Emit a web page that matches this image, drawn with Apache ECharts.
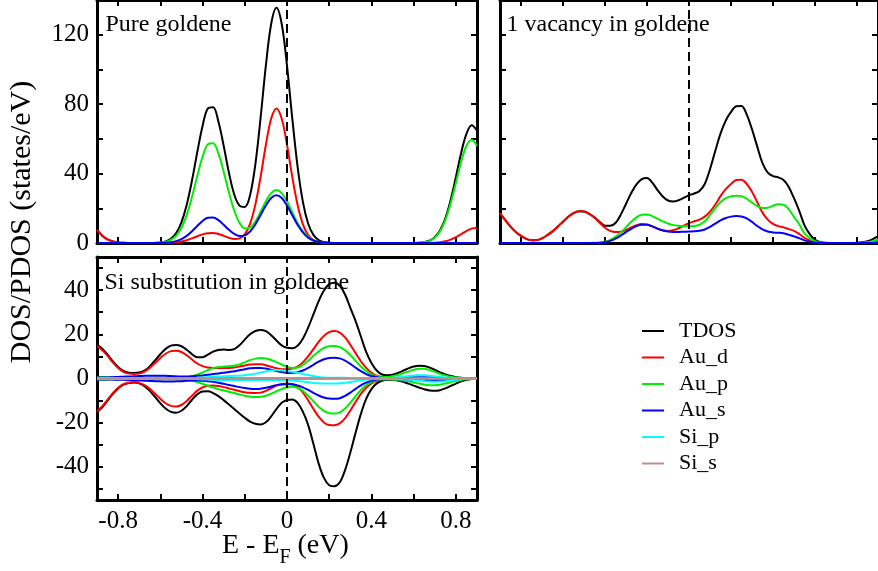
<!DOCTYPE html>
<html><head><meta charset="utf-8">
<script src="https://cdn.jsdelivr.net/npm/echarts@6/dist/echarts.min.js"></script>
<style>html,body{margin:0;padding:0;background:#fff}#c{width:878px;height:571px}</style>
</head><body><div id="c"></div>
<script>
// Energy grid (eV), shared by all panels
const E = [-0.9,-0.875,-0.85,-0.825,-0.8,-0.775,-0.75,-0.725,-0.7,-0.675,
-0.65,-0.625,-0.6,-0.575,-0.55,-0.525,-0.5,-0.475,-0.45,-0.425,
-0.4,-0.375,-0.35,-0.325,-0.3,-0.275,-0.25,-0.225,-0.2,-0.175,
-0.15,-0.125,-0.1,-0.075,-0.05,-0.025,0,0.025,0.05,0.075,
0.1,0.125,0.15,0.175,0.2,0.225,0.25,0.275,0.3,0.325,
0.35,0.375,0.4,0.425,0.45,0.475,0.5,0.525,0.55,0.575,
0.6,0.625,0.65,0.675,0.7,0.725,0.75,0.775,0.8,0.825,
0.85,0.875,0.9];

// Panel 1: Pure goldene
const pureTDOS = [7.5,4.2,2.06,0.9,0.35,0.11,0.03,0,0,0,
0,0.07,0.31,0.91,2.43,5.69,11.9,22.0,36.0,52.3,
67.4,77.5,78.2,70.0,56.0,40.5,28.0,21.5,20.8,27.5,
45.2,72.2,102.3,126.2,135.5,126.2,102.2,71.8,44.1,23.8,
11.2,4.7,1.7,0.57,0.17,0.04,0,0,0,0,
0,0,0,0,0,0,0,0,0,0,
0.04,0.15,0.5,1.3,3.3,7.3,14.2,24.6,38.0,51.9,
62.9,67.8,64.8];
const pureAuD = [7.5,4.2,2.06,0.9,0.35,0.11,0.03,0,0,0,
0,0,0.02,0.07,0.18,0.42,0.88,1.62,2.66,3.86,
4.97,5.68,5.74,5.16,4.13,3.02,2.3,2.64,5.05,11.06,
22.1,38.1,56.6,71.6,77.5,71.6,56.6,38.1,22.0,10.85,
4.56,1.64,0.5,0.13,0.03,0,0,0,0,0,
0,0,0,0,0,0,0,0,0,0,
0,0,0,0.07,0.19,0.46,1.0,1.95,3.35,5.1,
6.9,8.3,8.8];
const pureAuP = [0,0,0,0,0,0,0,0,0,0,
0,0.07,0.23,0.67,1.79,4.2,8.76,16.2,26.6,38.6,
49.7,56.8,57.4,51.6,41.1,29.1,18.7,11.6,8.4,8.9,
12.4,18.0,24.1,28.7,30.5,28.7,24.0,17.7,11.6,6.8,
3.5,1.6,0.64,0.23,0.07,0.02,0,0,0,0,
0,0,0,0,0,0,0,0,0,0,
0.04,0.15,0.45,1.26,3.1,6.8,13.2,22.7,34.6,46.8,
56.0,59.5,56.0];
const pureAuS = [0,0,0,0,0,0,0,0,0,0,
0,0,0.06,0.17,0.46,1.07,2.23,4.13,6.78,9.84,
12.7,14.5,14.66,13.2,10.5,7.6,5.2,4.0,4.4,6.65,
10.7,16.1,21.6,25.9,27.5,25.9,21.6,16.0,10.5,6.1,
3.1,1.44,0.58,0.21,0.07,0.02,0,0,0,0,
0,0,0,0,0,0,0,0,0,0,
0,0,0,0,0,0,0,0,0,0,
0,0,0];

// Panel 2: 1 vacancy in goldene
const vacTDOS = [17.2,13.2,9.45,6.4,4.1,2.4,1.6,1.7,2.7,4.5,
6.7,9.4,12.3,15.1,17.2,18.3,18.2,16.8,14.8,12.1,
10.0,9.9,11.5,16.3,22.5,28.8,33.8,36.8,37.4,34.8,
30.5,26.8,24.5,23.9,24.6,26.0,27.5,28.5,30.0,34.0,
42.5,53.0,63.0,70.5,75.5,78.8,79.0,74.0,65.5,55.5,
46.0,40.5,38.5,37.8,36.3,32.3,25.8,18.5,10.2,5.1,
1.8,0.5,0.1,0,0,0,0,0,0.1,0.4,
1.0,2.2,4.0];
const vacAuD = [17.2,13.2,9.45,6.4,4.1,2.4,1.6,1.7,2.7,4.5,
6.7,9.4,12.3,15.1,17.2,18.3,18.2,16.8,14.6,11.7,
8.8,7.0,6.3,6.5,7.5,9.0,10.3,11.0,10.7,9.6,
8.3,7.3,6.9,7.3,8.5,10.0,11.4,12.5,13.5,15.2,
18.0,22.0,27.0,31.0,34.0,36.3,36.5,34.0,29.5,23.5,
17.5,13.5,11.0,9.7,9.0,8.0,7.0,5.2,3.0,1.5,
0.5,0.1,0,0,0,0,0,0,0,0,
0.2,0.5,1.0];
const vacAuP = [0,0,0,0,0,0,0,0,0,0,
0,0,0,0,0,0,0,0,0.1,0.3,
0.8,1.8,3.5,6.0,9.0,12.2,14.8,16.3,16.4,15.5,
14.0,12.5,11.2,10.3,9.9,9.7,9.7,9.8,10.5,12.5,
16.0,20.0,23.5,25.8,26.9,27.2,27.0,25.5,23.3,21.2,
20.2,20.3,21.5,22.3,22.0,19.5,15.0,10.8,5.5,2.8,
1.0,0.3,0.1,0,0,0,0,0,0,0.1,
0.4,1.0,2.0];
const vacAuS = [0,0,0,0,0,0,0,0,0,0,
0,0,0,0,0,0,0,0,0,0.1,
0.4,1.2,2.5,4.3,6.3,8.2,9.7,10.5,10.5,9.6,
8.3,7.2,6.6,6.4,6.4,6.5,6.6,6.7,7.0,7.8,
9.3,11.2,13.0,14.4,15.2,15.5,15.3,14.2,12.2,9.8,
7.8,6.6,6.1,5.9,5.6,4.8,3.8,2.8,1.5,0.8,
0.3,0.1,0,0,0,0,0,0,0,0,
0,0,0];

// Panel 3: Si substitution in goldene (spin up / spin down)
const siTDOSup = [15.2,13.5,10.8,7.8,5.2,3.4,2.6,2.5,2.7,3.6,
5.5,8.2,11.0,13.4,14.9,15.2,14.6,13.0,11.0,9.6,
9.6,10.8,12.2,12.9,13.1,12.9,13.3,15.0,17.6,20.0,
21.5,22.0,21.4,19.6,17.2,15.0,13.9,13.7,14.8,18.0,
23.0,29.0,35.0,39.8,42.7,43.4,42.0,38.0,32.0,26.0,
19.0,12.0,7.0,3.6,1.8,1.5,1.7,2.5,3.5,4.6,
5.4,5.8,5.7,5.0,3.9,2.8,1.8,1.1,0.6,0.3,
0.15,0.05,0];
const siTDOSdn = [-15.2,-13.0,-10.0,-7.0,-4.5,-2.8,-2.0,-1.8,-2.2,-3.5,
-5.6,-8.3,-11.2,-13.6,-15.1,-15.5,-14.6,-12.5,-9.6,-7.2,
-5.9,-5.8,-6.6,-8.0,-9.8,-11.8,-13.8,-15.8,-17.8,-19.5,
-20.5,-20.8,-19.8,-17.2,-13.8,-11.0,-9.7,-9.5,-11.0,-15.0,
-21.0,-29.5,-38.5,-45.0,-48.3,-48.8,-47.0,-41.5,-33.5,-24.5,
-16.0,-9.2,-4.8,-2.2,-1.0,-0.6,-0.6,-0.9,-1.5,-2.3,
-3.2,-4.1,-4.9,-5.4,-5.6,-5.3,-4.5,-3.4,-2.3,-1.3,
-0.6,-0.2,0];
const siAuDup = [14.5,12.8,10.2,7.3,4.8,3.0,2.2,2.0,2.2,3.1,
4.8,7.0,9.3,11.2,12.4,12.6,12.0,10.5,8.6,6.8,
5.6,5.0,4.8,4.7,4.7,4.8,5.0,5.4,5.9,6.3,
6.5,6.4,6.0,5.3,4.6,4.2,4.2,4.5,5.4,7.3,
10.0,13.3,16.6,19.3,21.0,21.5,20.8,18.6,15.3,11.5,
7.8,4.8,2.6,1.3,0.6,0.3,0.2,0.2,0.2,0.2,
0.2,0.2,0.2,0.2,0.2,0.1,0.1,0.1,0.1,0,
0,0,0];
const siAuDdn = [-14.8,-12.5,-9.6,-6.6,-4.2,-2.6,-1.9,-1.7,-2.0,-3.0,
-4.7,-6.9,-9.2,-11.2,-12.4,-12.7,-12.0,-10.2,-7.8,-5.5,
-4.0,-3.3,-3.2,-3.4,-3.9,-4.5,-5.1,-5.7,-6.2,-6.5,
-6.6,-6.4,-5.6,-4.4,-3.2,-2.5,-2.3,-2.6,-3.8,-6.3,
-9.8,-13.7,-17.3,-19.9,-21.1,-21.2,-20.3,-18.0,-14.5,-10.6,
-7.0,-4.2,-2.2,-1.0,-0.4,-0.2,-0.1,-0.1,-0.1,-0.1,
-0.1,-0.1,-0.1,-0.1,-0.1,-0.1,-0.1,-0.1,-0.1,0,
0,0,0];
const siAuPup = [0.7,0.7,0.6,0.5,0.4,0.3,0.3,0.3,0.3,0.3,
0.3,0.3,0.3,0.3,0.3,0.3,0.4,0.6,1.0,1.7,
2.7,3.8,4.7,5.2,5.4,5.5,5.8,6.4,7.3,8.3,
9.0,9.3,9.1,8.4,7.4,6.3,5.3,4.8,5.0,6.2,
8.0,10.2,12.3,13.8,14.6,14.7,14.2,12.8,10.6,8.0,
5.4,3.3,1.9,1.1,0.7,0.7,1.0,1.6,2.4,3.2,
3.9,4.4,4.4,3.8,3.0,2.1,1.4,0.8,0.45,0.25,
0.12,0.05,0];
const siAuPdn = [-0.6,-0.6,-0.5,-0.5,-0.4,-0.3,-0.3,-0.3,-0.3,-0.3,
-0.3,-0.3,-0.3,-0.3,-0.3,-0.3,-0.4,-0.6,-1.0,-1.6,
-2.4,-3.3,-4.1,-4.8,-5.4,-6.0,-6.6,-7.2,-7.8,-8.2,
-8.4,-8.3,-7.8,-6.9,-5.8,-4.8,-4.0,-3.7,-4.2,-5.6,
-7.8,-10.3,-12.8,-14.7,-15.7,-15.9,-15.3,-13.6,-11.0,-8.0,
-5.2,-3.0,-1.6,-0.8,-0.4,-0.3,-0.4,-0.6,-0.9,-1.3,
-1.8,-2.3,-2.7,-3.0,-3.0,-2.8,-2.3,-1.7,-1.1,-0.6,
-0.3,-0.1,0];
const siAuSup = [0.5,0.5,0.5,0.6,0.7,0.8,0.9,1.0,1.1,1.2,
1.3,1.3,1.3,1.2,1.1,1.0,0.9,0.9,1.0,1.2,
1.4,1.7,2.0,2.3,2.6,2.9,3.3,3.7,4.2,4.6,
4.8,4.8,4.5,4.0,3.4,2.9,2.6,2.5,2.8,3.6,
4.8,6.2,7.6,8.7,9.3,9.4,9.1,8.1,6.6,4.9,
3.3,2.0,1.1,0.6,0.3,0.2,0.2,0.3,0.4,0.5,
0.6,0.6,0.6,0.5,0.4,0.3,0.2,0.1,0,0,
0,0,0];
const siAuSdn = [-0.5,-0.5,-0.5,-0.5,-0.6,-0.6,-0.7,-0.8,-0.9,-1.0,
-1.1,-1.2,-1.3,-1.4,-1.4,-1.3,-1.2,-1.0,-0.9,-0.9,
-1.0,-1.2,-1.5,-1.9,-2.4,-2.9,-3.4,-3.9,-4.3,-4.6,
-4.7,-4.6,-4.2,-3.6,-3.0,-2.7,-2.6,-2.6,-3.1,-4.0,
-5.2,-6.5,-7.7,-8.6,-9.1,-9.2,-8.9,-7.9,-6.4,-4.7,
-3.1,-1.9,-1.0,-0.5,-0.3,-0.2,-0.2,-0.3,-0.4,-0.5,
-0.6,-0.7,-0.8,-0.9,-0.9,-0.8,-0.7,-0.5,-0.3,-0.2,
-0.1,0,0];
const siSiPup = [0.2,0.2,0.2,0.2,0.2,0.2,0.2,0.2,0.2,0.2,
0.2,0.2,0.2,0.2,0.2,0.2,0.2,0.2,0.2,0.3,
0.4,0.6,0.8,0.9,1.0,1.1,1.2,1.3,1.5,1.8,
2.2,2.7,3.2,3.6,3.8,3.7,3.4,3.0,2.6,2.1,
1.6,1.1,0.7,0.4,0.3,0.3,0.3,0.3,0.2,0.2,
0.2,0.2,0.2,0.2,0.2,0.2,0.3,0.5,0.8,1.1,
1.4,1.5,1.5,1.3,1.0,0.7,0.5,0.3,0.2,0.1,
0.1,0.1,0];
const siSiPdn = [-0.2,-0.2,-0.2,-0.2,-0.2,-0.2,-0.2,-0.2,-0.2,-0.2,
-0.2,-0.2,-0.2,-0.2,-0.2,-0.2,-0.2,-0.2,-0.2,-0.3,
-0.4,-0.5,-0.6,-0.65,-0.7,-0.7,-0.7,-0.7,-0.7,-0.7,
-0.7,-0.7,-0.7,-0.7,-0.7,-0.7,-0.8,-0.9,-1.1,-1.4,
-1.7,-2.0,-2.2,-2.3,-2.3,-2.3,-2.2,-1.9,-1.6,-1.2,
-0.8,-0.5,-0.3,-0.25,-0.2,-0.2,-0.2,-0.3,-0.4,-0.55,
-0.7,-0.9,-1.2,-1.4,-1.5,-1.4,-1.2,-0.9,-0.6,-0.3,
-0.2,-0.1,0];
const siSx = [-0.9,-0.6,-0.3,0,0.3,0.6,0.9];
const siSiSup = [0.15,0.15,0.2,0.2,0.15,0.15,0.1];
const siSiSdn = [-0.15,-0.15,-0.2,-0.2,-0.15,-0.15,-0.1];

// Ticks / labels
const xTicks = [-0.8,-0.6,-0.4,-0.2,0,0.2,0.4,0.6,0.8];
const xLabels = [-0.8,-0.4,0,0.4,0.8];
const yTopTicks = [0,20,40,60,80,100,120,140];
const yTopLabels = [0,40,80,120];
const yBotTicks = [-50,-40,-30,-20,-10,0,10,20,30,40,50];
const yBotLabels = [-40,-20,0,20,40];
const legendNames = ['TDOS','Au_d','Au_p','Au_s','Si_p','Si_s'];

const FONT = "'Liberation Serif','Times New Roman',serif";
const C = {TDOS:'#000000', Au_d:'#ff0000', Au_p:'#00ee00', Au_s:'#0000ff', Si_p:'#00ffff', Si_s:'#bc8f8f'};

function pairs(xs, ys){ return xs.map((x,i)=>[x, ys[i]]); }

function xAx(grid, pos, showLabel){
  return {type:'value', gridIndex:grid, position:pos, min:-0.9, max:0.9,
    axisLine:{show:true,onZero:false,lineStyle:{color:'#000',width:3}},
    axisTick:{show:true,inside:true,length:6,lineStyle:{color:'#000',width:2},customValues:xTicks},
    axisLabel:{show:showLabel,customValues:xLabels,color:'#000',fontFamily:FONT,fontSize:25,margin:9},
    splitLine:{show:false}};
}
function yAx(grid, pos, min, max, ticks, labels, showLabel){
  return {type:'value', gridIndex:grid, position:pos, min:min, max:max,
    axisLine:{show:true,onZero:false,lineStyle:{color:'#000',width:3}},
    axisTick:{show:true,inside:true,length:6,lineStyle:{color:'#000',width:2},customValues:ticks},
    axisLabel:{show:showLabel,customValues:labels,color:'#000',fontFamily:FONT,fontSize:25,margin:8},
    splitLine:{show:false}};
}
const dashed = {silent:true, symbol:['none','none'], animation:false, label:{show:false},
  lineStyle:{color:'#000', type:[9,5], width:2}, emphasis:{disabled:true}, data:[{xAxis:0}]};

function line(name, grid, xs, ys, withMark){
  const s = {type:'line', name:name, xAxisIndex:grid*2, yAxisIndex:grid*2,
    data:pairs(xs, ys), smooth:0.35, symbol:'none', showSymbol:false,
    lineStyle:{color:C[name], width:2}, itemStyle:{color:C[name]},
    emphasis:{disabled:true}, silent:true, animation:false};
  if (withMark) s.markLine = dashed;
  return s;
}

const series = [
  line('TDOS',0,E,pureTDOS,true), line('Au_d',0,E,pureAuD), line('Au_p',0,E,pureAuP), line('Au_s',0,E,pureAuS),
  line('TDOS',1,E,vacTDOS,true), line('Au_d',1,E,vacAuD), line('Au_p',1,E,vacAuP), line('Au_s',1,E,vacAuS),
  line('TDOS',2,E,siTDOSup,true), line('TDOS',2,E,siTDOSdn),
  line('Au_d',2,E,siAuDup), line('Au_d',2,E,siAuDdn),
  line('Au_p',2,E,siAuPup), line('Au_p',2,E,siAuPdn),
  line('Au_s',2,E,siAuSup), line('Au_s',2,E,siAuSdn),
  line('Si_p',2,E,siSiPup), line('Si_p',2,E,siSiPdn),
  line('Si_s',2,siSx,siSiSup), line('Si_s',2,siSx,siSiSdn)
];

const txt = (x,y,t,size,extra) => Object.assign({type:'text', x:x, y:y, silent:true, z:10,
  style:{text:t, font:size+'px '+FONT, fill:'#000', align:'left', verticalAlign:'middle',
         textAlign:'left', textVerticalAlign:'middle'}}, extra||{});

const option = {
  animation:false,
  backgroundColor:'#ffffff',
  grid:[
    {left:97, top:-2, width:380, height:245},
    {left:500, top:-2, width:380, height:245},
    {left:97, top:257, width:380, height:243}
  ],
  xAxis:[ xAx(0,'bottom',false), xAx(0,'top',false),
          xAx(1,'bottom',false), xAx(1,'top',false),
          xAx(2,'bottom',true),  xAx(2,'top',false) ],
  yAxis:[ yAx(0,'left',0,140,yTopTicks,yTopLabels,true), yAx(0,'right',0,140,yTopTicks,yTopLabels,false),
          yAx(1,'left',0,140,yTopTicks,yTopLabels,false), yAx(1,'right',0,140,yTopTicks,yTopLabels,false),
          yAx(2,'left',-55,55,yBotTicks,yBotLabels,true), yAx(2,'right',-55,55,yBotTicks,yBotLabels,false) ],
  legend:{data:legendNames.map(n=>({name:n, icon:'rect'})), orient:'vertical', left:637, top:315,
    itemWidth:22, itemHeight:2, itemGap:4.5,
    selectedMode:false, textStyle:{fontFamily:FONT, fontSize:22, color:'#000', padding:[0,0,0,10]}},
  graphic:[
    txt(105.5,25,'Pure goldene',24),
    txt(506.5,25,'1 vacancy in goldene',24),
    txt(104.5,283,'Si substitution in goldene',24),
    txt(222,545.5,'E - E',28),
    txt(279.5,558,'F',20),
    txt(297.5,545.5,'(eV)',28),
    {type:'text', x:22, y:222, rotation:Math.PI/2, silent:true, z:10,
     style:{text:'DOS/PDOS (states/eV)', font:'30px '+FONT, fill:'#000', align:'center', verticalAlign:'middle',
            textAlign:'center', textVerticalAlign:'middle'}}
  ],
  series:series
};
const chart = echarts.init(document.getElementById('c'), null, {renderer:'canvas'});
chart.setOption(option);
</script>
</body></html>
